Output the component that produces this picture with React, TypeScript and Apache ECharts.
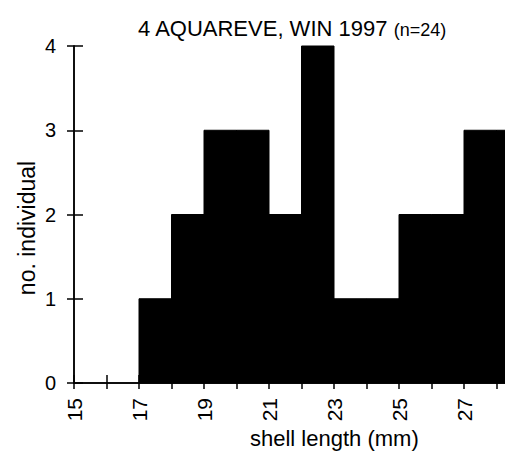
import React, { useEffect, useRef } from "react";
import * as echarts from "echarts";

const binStarts = [17, 18, 19, 20, 21, 22, 23, 24, 25, 26, 27, 28];
const binWidth = 1;
const counts = [1, 2, 3, 3, 2, 4, 1, 1, 2, 2, 3, 3];
const titleMain = "4 AQUAREVE, WIN 1997";
const titleN = "(n=24)";
const xName = "shell length (mm)";
const yName = "no. individual";

const FONT = "'Liberation Sans', Arial, Helvetica, sans-serif";

export default function App() {
  const ref = useRef<HTMLDivElement>(null);
  useEffect(() => {
    if (!ref.current) return;
    const chart = echarts.init(ref.current, null, { renderer: "svg" });
    const data = binStarts.map((s, i) => [s, s + binWidth, counts[i]]);
    const xBase = {
      type: "value",
      min: 15,
      max: 29,
      interval: 1,
      position: "bottom",
      splitLine: { show: false },
      axisLine: { show: true, onZero: false, lineStyle: { color: "#000", width: 1.5 } },
    };
    const yBase = {
      type: "value",
      min: 0,
      max: 4,
      interval: 1,
      position: "left",
      splitLine: { show: false },
      axisLine: { show: true, onZero: false, lineStyle: { color: "#000", width: 1.5 } },
    };
    chart.setOption({
      animation: false,
      backgroundColor: "#fff",
      title: {
        left: 133,
        top: 8,
        text: `{a|${titleMain}} {b|${titleN}}`,
        textStyle: {
          fontWeight: "normal",
          rich: {
            a: { fontFamily: FONT, fontSize: 22, fontWeight: "normal", color: "#000", lineHeight: 26, verticalAlign: "bottom" },
            b: { fontFamily: FONT, fontSize: 18, fontWeight: "normal", color: "#000", lineHeight: 26, verticalAlign: "bottom" },
          },
        },
      },
      grid: { left: 74, top: 46, width: 455, height: 337, containLabel: false, outerBoundsMode: "none" },
      xAxis: [
        {
          ...xBase,
          axisTick: { show: true, inside: false, length: 6, lineStyle: { color: "#000", width: 1.5 } },
          axisLabel: {
            show: true,
            rotate: 90,
            margin: 15,
            padding: [20, 0, 0, 0],
            fontFamily: FONT,
            fontSize: 21,
            color: "#000",
            showMinLabel: true,
            showMaxLabel: true,
            formatter: (v: number) => (Math.round(v) % 2 === 1 ? String(v) : ""),
          },
        },
        {
          ...xBase,
          axisTick: { show: true, inside: true, length: 8, lineStyle: { color: "#000", width: 1.5 } },
          axisLabel: { show: false },
        },
      ],
      yAxis: [
        {
          ...yBase,
          axisTick: { show: true, inside: false, length: 7, lineStyle: { color: "#000", width: 1.5 } },
          axisLabel: { show: true, margin: 18, fontFamily: FONT, fontSize: 20, color: "#000" },
        },
        {
          ...yBase,
          axisTick: { show: true, inside: true, length: 9, lineStyle: { color: "#000", width: 1.5 } },
          axisLabel: { show: false },
        },
      ],
      graphic: [
        {
          type: "text",
          left: 250,
          top: 427,
          style: { text: xName, fontFamily: FONT, fontSize: 22, fill: "#000" },
        },
        {
          type: "text",
          x: 27,
          y: 228,
          rotation: Math.PI / 2,
          style: {
            text: yName,
            fontFamily: FONT,
            fontSize: 23,
            fill: "#000",
            align: "center",
            verticalAlign: "middle",
          },
        },
      ],
      series: [
        {
          type: "custom",
          xAxisIndex: 0,
          yAxisIndex: 0,
          data,
          z: 1,
          renderItem: (params: any, api: any) => {
            const p0 = api.coord([api.value(0), api.value(2)]);
            const p1 = api.coord([api.value(1), 0]);
            const cs = params.coordSys;
            const shape = echarts.graphic.clipRectByRect(
              { x: p0[0], y: p0[1], width: p1[0] - p0[0], height: p1[1] - p0[1] },
              { x: cs.x, y: cs.y - 5, width: cs.width, height: cs.height + 5 }
            );
            if (!shape) return null;
            return {
              type: "rect",
              shape,
              style: { fill: "#000", stroke: "#000", lineWidth: 1 },
            };
          },
        },
      ],
    });
    return () => chart.dispose();
  }, []);
  return (
    <div
      ref={ref}
      style={{ position: "fixed", left: 0, top: 0, width: 505, height: 461, background: "#fff" }}
    />
  );
}
